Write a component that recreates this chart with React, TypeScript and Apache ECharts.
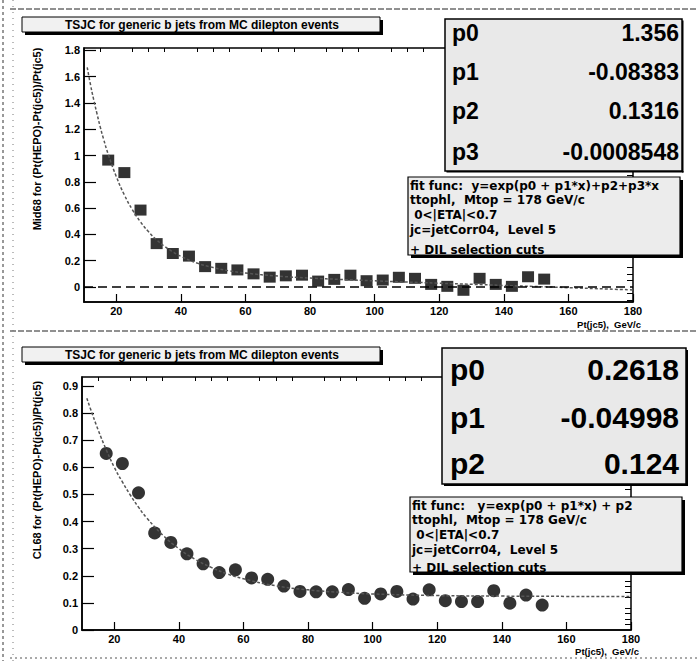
import React, { useEffect, useRef } from "react";
import * as echarts from "echarts";

// ---- data ----
const binCenters = [17.5, 22.5, 27.5, 32.5, 37.5, 42.5, 47.5, 52.5, 57.5, 62.5, 67.5, 72.5, 77.5, 82.5, 87.5, 92.5, 97.5, 102.5, 107.5, 112.5, 117.5, 122.5, 127.5, 132.5, 137.5, 142.5, 147.5, 152.5];
const mid68Values = [0.965, 0.87, 0.585, 0.33, 0.255, 0.235, 0.155, 0.142, 0.13, 0.10, 0.075, 0.085, 0.09, 0.045, 0.058, 0.09, 0.048, 0.053, 0.074, 0.066, 0.02, 0.005, -0.025, 0.066, 0.02, 0.005, 0.078, 0.06];
const cl68Values = [0.651, 0.614, 0.506, 0.358, 0.323, 0.281, 0.244, 0.212, 0.222, 0.192, 0.187, 0.162, 0.142, 0.141, 0.141, 0.149, 0.117, 0.133, 0.142, 0.114, 0.148, 0.108, 0.105, 0.105, 0.145, 0.099, 0.129, 0.092];

const topFitX = [11, 12, 13, 14, 15, 16, 17.5, 20, 22.5, 25, 27.5, 30, 32.5, 35, 37.5, 40, 45, 50, 55, 60, 70, 80, 90, 100, 120, 140, 160, 180];
const topFitY = [1.67, 1.54, 1.425, 1.32, 1.22, 1.13, 1.01, 0.84, 0.70, 0.587, 0.495, 0.42, 0.358, 0.308, 0.267, 0.233, 0.182, 0.148, 0.123, 0.106, 0.083, 0.068, 0.057, 0.047, 0.029, 0.012, -0.005, -0.022];
const bottomFitX = [11.5, 12.5, 15, 17.5, 20, 22.5, 25, 27.5, 30, 35, 40, 45, 50, 55, 60, 70, 80, 90, 100, 120, 140, 160, 180];
const bottomFitY = [0.855, 0.82, 0.738, 0.665, 0.60, 0.546, 0.497, 0.453, 0.414, 0.350, 0.300, 0.261, 0.231, 0.207, 0.189, 0.163, 0.148, 0.139, 0.133, 0.127, 0.125, 0.124, 0.124];

const xMajorTicks = [20, 40, 60, 80, 100, 120, 140, 160, 180];
const topYMajorTicks = [0, 0.2, 0.4, 0.6, 0.8, 1, 1.2, 1.4, 1.6, 1.8];
const bottomYMajorTicks = [0, 0.1, 0.2, 0.3, 0.4, 0.5, 0.6, 0.7, 0.8, 0.9];

const topParNames = ["p0", "p1", "p2", "p3"];
const topParValues = ["1.356", "-0.08383", "0.1316", "-0.0008548"];
const bottomParNames = ["p0", "p1", "p2"];
const bottomParValues = ["0.2618", "-0.04998", "0.124"];

const titleText = "TSJC for generic b jets from MC dilepton events";
const topFitLines = [
  "fit func:  y=exp(p0 + p1*x)+p2+p3*x",
  "ttophl,  Mtop = 178 GeV/c",
  " 0<|ETA|<0.7",
  "jc=jetCorr04,  Level 5",
  "+ DIL selection cuts",
];
const bottomFitLines = [
  "fit func:   y=exp(p0 + p1*x) + p2",
  "ttophl,  Mtop = 178 GeV/c",
  " 0<|ETA|<0.7",
  "jc=jetCorr04,  Level 5",
  "+ DIL selection cuts",
];
const topYTitle = "Mid68 for (Pt(HEPO)-Pt(jc5))/Pt(jc5)";
const bottomYTitle = "CL68 for (Pt(HEPO)-Pt(jc5))/Pt(jc5)";
const xTitle = "Pt(jc5),  GeV/c";

const FONT = "'Liberation Sans', Arial, Helvetica, sans-serif";
const WIDE = "'DejaVu Sans', 'Liberation Sans', sans-serif";

function minorTicks(min: number, max: number, step: number, majorStep: number) {
  const out: number[] = [];
  const n = Math.round((max - min) / step);
  for (let i = 0; i <= n; i++) {
    const v = Math.round((min + i * step) * 1e6) / 1e6;
    const r = v / majorStep;
    if (Math.abs(r - Math.round(r)) > 1e-6) out.push(v);
  }
  return out;
}

function box(x: number, y: number, w: number, h: number, shadow: number, fill: string, lw: number) {
  const els: any[] = [
    { type: "rect", z: 100, shape: { x, y, width: w, height: h }, style: { fill, stroke: "#000", lineWidth: lw } },
  ];
  if (shadow > 0) {
    els.push({ type: "rect", z: 103, shape: { x: x + w, y: y + shadow, width: shadow, height: h }, style: { fill: "#000" } });
    els.push({ type: "rect", z: 103, shape: { x: x + shadow, y: y + h, width: w, height: shadow }, style: { fill: "#000" } });
  }
  return els;
}

function txt(text: string, x: number, y: number, size: number, align: string, extra: any = {}, family: string = FONT) {
  return {
    type: "text",
    z: 102,
    x,
    y,
    ...extra,
    style: { text, x: 0, y: 0, fill: "#000", font: `bold ${size}px ${family}`, align, verticalAlign: "middle" },
  };
}

export default function App() {
  const ref = useRef<HTMLDivElement>(null);
  useEffect(() => {
    if (!ref.current) return;
    const chart = echarts.init(ref.current, undefined, { renderer: "svg" });

    const xMinor = minorTicks(10, 180, 5, 20).filter((v) => v > 10 && v < 180);
    const topYMinor = minorTicks(-0.1, 1.8, 0.05, 0.2);
    const bottomYMinor = minorTicks(0, 0.92, 0.02, 0.1).filter((v) => v > 0);

    const axisLabelBase = { color: "#000", fontFamily: FONT, fontWeight: "bold", fontSize: 11 };

    const majorX = (gridIndex: number) => ({
      type: "value",
      gridIndex,
      min: 10,
      max: 180,
      axisLine: { show: true, onZero: false, lineStyle: { color: "#000", width: 1.5 } },
      axisTick: { show: true, inside: true, length: 8, customValues: xMajorTicks, lineStyle: { color: "#000", width: 1.2 } },
      axisLabel: { ...axisLabelBase, margin: 3, customValues: xMajorTicks },
      splitLine: { show: false },
    });
    const minorX = (gridIndex: number) => ({
      type: "value",
      gridIndex,
      min: 10,
      max: 180,
      axisLine: { show: false, onZero: false },
      axisTick: { show: true, inside: true, length: 4, customValues: xMinor, lineStyle: { color: "#000", width: 1 } },
      axisLabel: { show: false },
      splitLine: { show: false },
    });
    const majorY = (gridIndex: number, min: number, max: number, ticks: number[]) => ({
      type: "value",
      gridIndex,
      min,
      max,
      axisLine: { show: true, onZero: false, lineStyle: { color: "#000", width: 1.5 } },
      axisTick: { show: true, inside: true, length: 12, customValues: ticks, lineStyle: { color: "#000", width: 1.2 } },
      axisLabel: { ...axisLabelBase, margin: 4, customValues: ticks },
      splitLine: { show: false },
    });
    const minorY = (gridIndex: number, min: number, max: number, ticks: number[]) => ({
      type: "value",
      gridIndex,
      min,
      max,
      axisLine: { show: false, onZero: false },
      axisTick: { show: true, inside: true, length: 6, customValues: ticks, lineStyle: { color: "#000", width: 1 } },
      axisLabel: { show: false },
      splitLine: { show: false },
    });

    const graphic: any[] = [];
    // page frame lines (scan borders)
    graphic.push({ type: "line", z: 50, shape: { x1: 10, y1: 9, x2: 697, y2: 9 }, style: { stroke: "#222", lineWidth: 1, lineDash: [6, 2] } });
    graphic.push({ type: "line", z: 50, shape: { x1: 10, y1: 331, x2: 697, y2: 331 }, style: { stroke: "#222", lineWidth: 1, lineDash: [6, 2] } });
    graphic.push({ type: "line", z: 50, shape: { x1: 10, y1: 658, x2: 697, y2: 658 }, style: { stroke: "#555", lineWidth: 1, lineDash: [2, 3] } });
    graphic.push({ type: "line", z: 50, shape: { x1: 3, y1: 0, x2: 3, y2: 661 }, style: { stroke: "#333", lineWidth: 1, lineDash: [3, 3] } });
    graphic.push({ type: "line", z: 50, shape: { x1: 13, y1: 0, x2: 13, y2: 661 }, style: { stroke: "#777", lineWidth: 1, lineDash: [1, 5] } });

    // title boxes
    graphic.push(...box(22, 17, 358, 15, 3, "#f1f1f1", 1));
    graphic.push(txt(titleText, 202, 25, 12, "center"));
    graphic.push(...box(22, 347, 358, 15, 3, "#f1f1f1", 1));
    graphic.push(txt(titleText, 202, 355, 12, "center"));

    // stats boxes
    graphic.push(...box(445, 19, 237, 152, 1.5, "#e9e9e9", 1.5));
    const topRowsY = [33, 72, 111, 152];
    topParNames.forEach((n, i) => {
      graphic.push(txt(n, 452, topRowsY[i], 23, "left"));
      graphic.push(txt(topParValues[i], 679, topRowsY[i], 23, "right"));
    });
    graphic.push(...box(442, 348, 244, 136, 2, "#e9e9e9", 1.5));
    const botRowsY = [369, 417, 463];
    bottomParNames.forEach((n, i) => {
      graphic.push(txt(n, 450, botRowsY[i], 30, "left"));
      graphic.push(txt(bottomParValues[i], 679, botRowsY[i], 30, "right"));
    });

    // fit function boxes
    graphic.push(...box(408, 177, 272, 78, 3, "#ececec", 1.2));
    const topFitRows = [186, 200, 215, 230, 250];
    topFitLines.forEach((l, i) => graphic.push(txt(l, 410, topFitRows[i], 12, "left", {}, WIDE)));
    graphic.push(...box(410, 497, 272, 75, 3, "#ececec", 1.2));
    const botFitRows = [506, 520, 535, 550, 568];
    bottomFitLines.forEach((l, i) => graphic.push(txt(l, 412, botFitRows[i], 12, "left", {}, WIDE)));

    // axis titles
    graphic.push(txt(topYTitle, 37, 139, 11, "center", { rotation: Math.PI / 2 }));
    graphic.push(txt(bottomYTitle, 37, 470, 11, "center", { rotation: Math.PI / 2 }));
    graphic.push(txt(xTitle, 641, 324, 9.5, "right"));
    graphic.push(txt(xTitle, 639, 651, 9.5, "right"));

    const option: any = {
      animation: false,
      backgroundColor: "#fff",
      grid: [
        { left: 84, top: 48, width: 549, height: 254, show: true, borderColor: "#000", borderWidth: 1.5, backgroundColor: "transparent" },
        { left: 82, top: 377, width: 549, height: 253, show: true, borderColor: "#000", borderWidth: 1.5, backgroundColor: "transparent" },
      ],
      xAxis: [majorX(0), minorX(0), majorX(1), minorX(1)],
      yAxis: [
        majorY(0, -0.114, 1.8175, topYMajorTicks),
        minorY(0, -0.114, 1.8175, topYMinor),
        majorY(1, 0, 0.933, bottomYMajorTicks),
        minorY(1, 0, 0.933, bottomYMinor),
      ],
      series: [
        {
          type: "scatter",
          xAxisIndex: 0,
          yAxisIndex: 0,
          symbol: "rect",
          symbolSize: [12, 11],
          itemStyle: { color: "#000" },
          data: binCenters.map((x, i) => [x, mid68Values[i]]),
          z: 3,
          markLine: {
            silent: true,
            symbol: "none",
            label: { show: false },
            lineStyle: { color: "#000", type: [9, 5], width: 1.5 },
            data: [{ yAxis: 0 }],
          },
        },
        {
          type: "line",
          xAxisIndex: 0,
          yAxisIndex: 0,
          showSymbol: false,
          smooth: true,
          lineStyle: { color: "#555", width: 1.5, type: [3, 2] },
          data: topFitX.map((x, i) => [x, topFitY[i]]),
          z: 4,
        },
        {
          type: "scatter",
          xAxisIndex: 2,
          yAxisIndex: 2,
          symbol: "circle",
          symbolSize: 13,
          itemStyle: { color: "#000" },
          data: binCenters.map((x, i) => [x, cl68Values[i]]),
          z: 3,
        },
        {
          type: "line",
          xAxisIndex: 2,
          yAxisIndex: 2,
          showSymbol: false,
          smooth: true,
          lineStyle: { color: "#555", width: 1.5, type: [3, 2] },
          data: bottomFitX.map((x, i) => [x, bottomFitY[i]]),
          z: 4,
        },
      ],
      graphic,
    };
    chart.setOption(option);
    return () => chart.dispose();
  }, []);
  return <div ref={ref} style={{ position: "fixed", left: 0, top: 0, width: 697, height: 661, background: "#fff" }} />;
}
